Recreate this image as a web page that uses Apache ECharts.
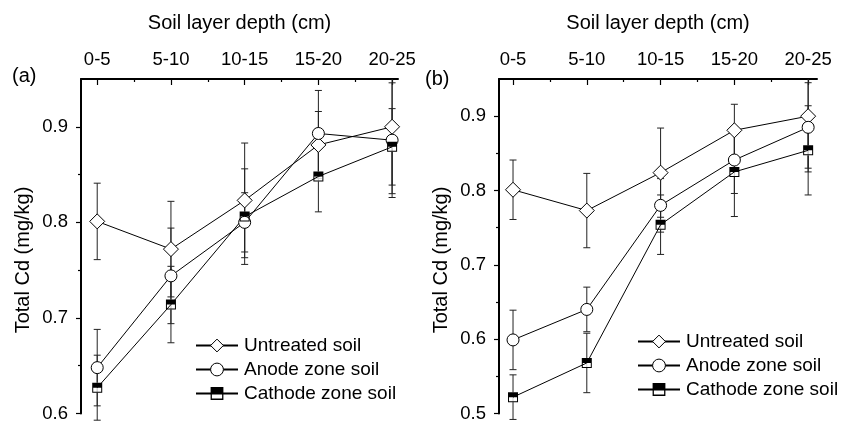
<!DOCTYPE html>
<html>
<head>
<meta charset="utf-8">
<script src="https://cdn.jsdelivr.net/npm/echarts@6/dist/echarts.min.js"></script>
<style>
html, body { margin: 0; padding: 0; background: #fff; }
#chart { width: 841px; height: 423px; }
</style>
</head>
<body>
<div id="chart"></div>
<script>
// depth categories (top axis)
const depthLabels = ['0-5', '5-10', '10-15', '15-20', '20-25'];
const depthIndex = [0, 1, 2, 3, 4];
const minorDepthTicks = [0.5, 1.5, 2.5, 3.5];

// panel (a)
const untreatedA = [0.801, 0.772, 0.823, 0.881, 0.900];
const untreatedErrA = [0.040, 0.050, 0.060, 0.035, 0.070];
const anodeA = [0.648, 0.744, 0.800, 0.893, 0.886];
const anodeErrA = [0.040, 0.050, 0.031, 0.045, 0.060];
const cathodeA = [0.627, 0.714, 0.806, 0.848, 0.879];
const cathodeErrA = [0.034, 0.040, 0.050, 0.037, 0.040];
const yTicksA = [0.6, 0.7, 0.8, 0.9];
const yMinorA = [0.65, 0.75, 0.85];

// panel (b)
const untreatedB = [0.801, 0.773, 0.824, 0.881, 0.900];
const untreatedErrB = [0.040, 0.050, 0.060, 0.035, 0.070];
const anodeB = [0.599, 0.640, 0.780, 0.841, 0.885];
const anodeErrB = [0.040, 0.030, 0.036, 0.045, 0.060];
const cathodeB = [0.522, 0.568, 0.754, 0.825, 0.854];
const cathodeErrB = [0.030, 0.040, 0.040, 0.060, 0.060];
const yTicksB = [0.5, 0.6, 0.7, 0.8, 0.9];
const yMinorB = [0.55, 0.65, 0.75, 0.85];

const FONT = '"Liberation Sans", Arial, Helvetica, sans-serif';
// top half filled, bottom half hollow square
const halfSquare = 'path://M0,0 L10,0 L10,10 L0,10 Z M1,5 L1,9 L9,9 L9,5 Z';

let chart = echarts.init(document.getElementById('chart'));

function pts(vals) {
    return vals.map((v, i) => [depthIndex[i], v]);
}
function errPts(vals, errs) {
    return vals.map((v, i) => [depthIndex[i], v, errs[i]]);
}

// error bars, clipped at the top of the frame like the original
function errorBarRender(yMax) {
    return function (params, api) {
        let x = api.value(0), y = api.value(1), e = api.value(2);
        let hi = Math.min(y + e, yMax);
        let p1 = api.coord([x, hi]);
        let p2 = api.coord([x, y - e]);
        let w = 3.5;
        let style = { stroke: '#222', lineWidth: 1 };
        let children = [
            { type: 'line', shape: { x1: p1[0], y1: p1[1], x2: p2[0], y2: p2[1] }, style: style },
            { type: 'line', shape: { x1: p2[0] - w, y1: p2[1], x2: p2[0] + w, y2: p2[1] }, style: style }
        ];
        if (y + e <= yMax) {
            children.push({ type: 'line', shape: { x1: p1[0] - w, y1: p1[1], x2: p1[0] + w, y2: p1[1] }, style: style });
        }
        return { type: 'group', children: children };
    };
}

function xAxes(grid, min, max) {
    return [
        {
            type: 'value', gridIndex: grid, position: 'top', min: min, max: max,
            name: 'Soil layer depth (cm)', nameLocation: 'middle', nameGap: 46,
            nameTextStyle: { fontSize: 20, color: '#000', fontFamily: FONT },
            axisLine: { onZero: false, lineStyle: { color: '#000', width: 2 } },
            axisTick: { inside: true, length: 6, customValues: depthIndex, lineStyle: { color: '#000', width: 1.2 } },
            axisLabel: {
                customValues: depthIndex, margin: 10, fontSize: 18.5, color: '#000', fontFamily: FONT,
                formatter: v => depthLabels[Math.round(v)]
            },
            splitLine: { show: false }
        },
        {
            type: 'value', gridIndex: grid, position: 'top', min: min, max: max,
            axisLine: { show: false, onZero: false },
            axisTick: { inside: true, length: 3, customValues: minorDepthTicks, lineStyle: { color: '#000', width: 1.2 } },
            axisLabel: { show: false },
            splitLine: { show: false }
        }
    ];
}

function yAxes(grid, min, max, ticks, minor) {
    return [
        {
            type: 'value', gridIndex: grid, position: 'left', min: min, max: max,
            axisLine: { onZero: false, lineStyle: { color: '#000', width: 2 } },
            axisTick: { length: 5, customValues: ticks, lineStyle: { color: '#000', width: 1.2 } },
            axisLabel: {
                customValues: ticks, margin: 13, fontSize: 18.5, color: '#000', fontFamily: FONT,
                formatter: v => v.toFixed(1)
            },
            splitLine: { show: false }
        },
        {
            type: 'value', gridIndex: grid, position: 'left', min: min, max: max,
            axisLine: { show: false, onZero: false },
            axisTick: { length: 3, customValues: minor, lineStyle: { color: '#000', width: 1.2 } },
            axisLabel: { show: false },
            splitLine: { show: false }
        }
    ];
}

function panelSeries(xi, yi, yMax, u, ue, a, ae, c, ce) {
    let base = { xAxisIndex: xi, yAxisIndex: yi };
    let lineBase = Object.assign({ type: 'line', z: 3, lineStyle: { color: '#000', width: 1 } }, base);
    return [
        Object.assign({ type: 'custom', z: 1, renderItem: errorBarRender(yMax), data: errPts(u, ue), silent: true }, base),
        Object.assign({ type: 'custom', z: 1, renderItem: errorBarRender(yMax), data: errPts(a, ae), silent: true }, base),
        Object.assign({ type: 'custom', z: 1, renderItem: errorBarRender(yMax), data: errPts(c, ce), silent: true }, base),
        // white underlay for the hollow half of the cathode markers
        Object.assign({
            type: 'scatter', z: 2, symbol: 'rect', symbolSize: 10, silent: true,
            itemStyle: { color: '#fff' }, data: pts(c)
        }, base),
        Object.assign({}, lineBase, {
            name: 'Untreated soil', symbol: 'diamond', symbolSize: 15,
            itemStyle: { color: '#fff', borderColor: '#000', borderWidth: 1 }, data: pts(u)
        }),
        Object.assign({}, lineBase, {
            name: 'Anode zone soil', symbol: 'circle', symbolSize: 12,
            itemStyle: { color: '#fff', borderColor: '#000', borderWidth: 1 }, data: pts(a)
        }),
        Object.assign({}, lineBase, {
            name: 'Cathode zone soil', symbol: halfSquare, symbolSize: 10,
            itemStyle: { color: '#000', borderWidth: 0 }, data: pts(c)
        })
    ];
}

function legendAt(left, top) {
    return {
        orient: 'vertical', left: left, top: top, padding: 0,
        itemWidth: 42, itemHeight: 16, itemGap: 5, selectedMode: false,
        textStyle: { fontSize: 19, color: '#000', fontFamily: FONT, padding: [0, 0, 0, 1] },
        data: [
            { name: 'Untreated soil', itemStyle: { borderWidth: 1, borderColor: '#000', color: '#fff' } },
            { name: 'Anode zone soil', itemStyle: { borderWidth: 1, borderColor: '#000', color: '#fff' } },
            { name: 'Cathode zone soil', itemStyle: { borderWidth: 0, color: '#000' } }
        ]
    };
}

let option = {
    animation: false,
    backgroundColor: '#fff',
    textStyle: { fontFamily: FONT },
    grid: [
        { left: 81, top: 79, width: 317, height: 336 },
        { left: 499, top: 79, width: 318, height: 337 }
    ],
    xAxis: xAxes(0, -0.22, 4.08).concat(xAxes(1, -0.19, 4.12)),
    yAxis: yAxes(0, 0.6, 0.95, yTicksA, yMinorA).concat(yAxes(1, 0.5, 0.95, yTicksB, yMinorB)),
    legend: [legendAt(195, 336), legendAt(637, 332)],
    graphic: [
        { type: 'text', left: 12, top: 66, style: { text: '(a)', font: '20px ' + FONT, fill: '#000' } },
        { type: 'text', left: 425, top: 69, style: { text: '(b)', font: '20px ' + FONT, fill: '#000' } },
        {
            type: 'text', x: 23, y: 260, rotation: Math.PI / 2,
            style: { text: 'Total Cd (mg/kg)', font: '20px ' + FONT, fill: '#000', align: 'center', verticalAlign: 'middle' }
        },
        {
            type: 'text', x: 441, y: 260, rotation: Math.PI / 2,
            style: { text: 'Total Cd (mg/kg)', font: '20px ' + FONT, fill: '#000', align: 'center', verticalAlign: 'middle' }
        }
    ],
    series: panelSeries(0, 0, 0.95, untreatedA, untreatedErrA, anodeA, anodeErrA, cathodeA, cathodeErrA)
        .concat(panelSeries(2, 2, 0.95, untreatedB, untreatedErrB, anodeB, anodeErrB, cathodeB, cathodeErrB))
};
chart.setOption(option);
</script>
</body>
</html>
